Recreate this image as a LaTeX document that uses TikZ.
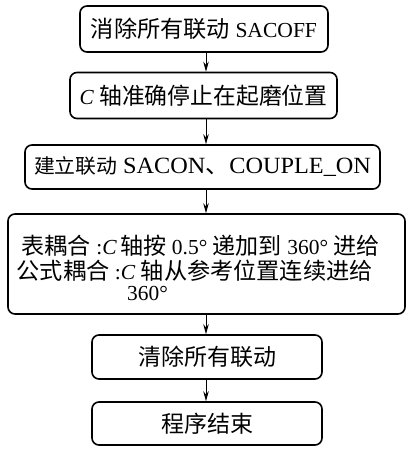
\documentclass[tikz,border=0pt]{standalone}
\usepackage{fontspec}
\setmainfont{Liberation Serif}[Scale=0.93]
\newfontfamily\cjk{Noto Sans CJK SC}
\usetikzlibrary{arrows.meta}
\newcommand{\zh}[1]{{\cjk #1}}
\newcommand{\fitw}[2]{\resizebox{#1}{\height}{#2}}
\tikzset{
  x=1pt,y=-1pt,
  flowbox/.style={draw,line width=1.6pt,rounded corners=7pt,inner sep=0pt,
    align=center,font=\fontsize{23}{27}\selectfont},
  linetext/.style={anchor=west,inner sep=0pt,font=\fontsize{23}{27}\selectfont},
  flowarrow/.style={line width=0.9pt,-{Stealth[length=10pt,width=5.5pt]}}
}
\begin{document}
\begin{tikzpicture}
\useasboundingbox (0,0) rectangle (412,450);
\coordinate (ax) at (206,0);
\node[flowbox,minimum width=248pt,minimum height=46pt] (b1) at (204,29) {\fitw{226pt}{\zh{消除所有联动} SACOFF}};
\node[flowbox,minimum width=267pt,minimum height=46pt] (b2) at (203.5,95.5) {\fitw{248pt}{\textit{C} \zh{轴准确停止在起磨位置}}};
\node[flowbox,minimum width=355pt,minimum height=44pt] (b3) at (202.5,167) {\fitw{337pt}{{\fontsize{20}{24}\selectfont\zh{建立联动}} {\fontsize{25}{27}\selectfont SACON}\zh{、}{\fontsize{25}{27}\selectfont COUPLE\_ON}}};
\node[flowbox,minimum width=397pt,minimum height=100pt] (b4) at (206.5,264) {};
\node[linetext] (t1) at (21.5,246) {\fitw{358pt}{\zh{表耦合} :\textit{C}\,\zh{轴按} 0.5° \zh{递加到} 360° \zh{进给}}};
\node[linetext] (t2) at (16.5,271) {\fitw{356pt}{\zh{公式耦合} :\textit{C} \zh{轴从参考位置连续进给}}};
\node[linetext] (t3) at (127,293) {360°};
\node[flowbox,minimum width=230pt,minimum height=44pt] (b5) at (207,357) {\zh{清除所有联动}};
\node[flowbox,minimum width=230pt,minimum height=43pt] (b6) at (207,423.5) {\zh{程序结束}};
\draw[flowarrow] (b1.south -| ax) -- (b2.north -| ax);
\draw[flowarrow] (b2.south -| ax) -- (b3.north -| ax);
\draw[flowarrow] (b3.south -| ax) -- (b4.north -| ax);
\draw[flowarrow] (b4.south -| ax) -- (b5.north -| ax);
\draw[flowarrow] (b5.south -| ax) -- (b6.north -| ax);
\end{tikzpicture}
\end{document}
